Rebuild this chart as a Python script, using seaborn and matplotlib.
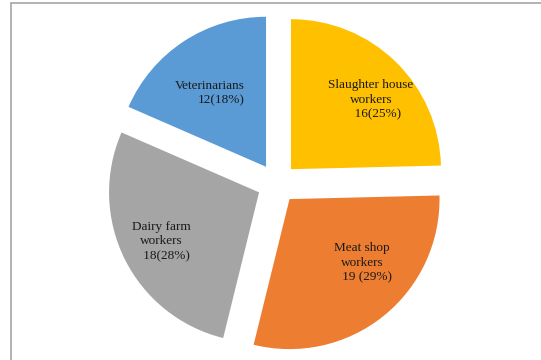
import matplotlib
matplotlib.use("Agg")
import matplotlib.pyplot as plt
import seaborn as sns

# --- data ---
groups = ["Slaughter house\nworkers", "Meat shop\nworkers", "Dairy farm\nworkers", "Veterinarians"]
counts = [16, 19, 18, 12]
pct_text = ["    16(25%)", "   19 (29%)", "   18(28%)", "12(18%)"]
colors = ["#FFC000", "#ED7D31", "#A5A5A5", "#5B9BD5"]

sns.set_style("white")
plt.rcParams["font.family"] = ["Liberation Serif", "DejaVu Serif"]

fig = plt.figure(figsize=(5.41, 3.6), dpi=100)
ax = fig.add_axes([0, 0, 1, 1])

# pie drawn in pixel-like data units (y up)
cx, cy, r = 277, 176.5, 150
wedges, _ = ax.pie(counts, colors=colors, startangle=90, counterclock=False,
                   radius=r, center=(cx, cy), explode=[20] * len(counts),
                   wedgeprops=dict(linewidth=0))

ax.set_xlim(0, 541)
ax.set_ylim(0, 360)
ax.set_aspect("equal")
ax.axis("off")

# label positions (x, y of text anchor) and alignment
label_pos = [(371, 260, "center"), (362, 97.5, "center"), (161, 118.5, "center"), (245, 267, "right")]
for name, pt, (x, y, ha) in zip(groups, pct_text, label_pos):
    ax.text(x, y, name + "\n" + pt, ha=ha, va="center", fontsize=9.5,
            color="#1a1a1a", linespacing=1.3,
            multialignment="center" if ha == "center" else "right")

# chart-area frame (cropped at right and bottom)
frame = plt.Rectangle((10.5, -10), 600, 367, fill=False, edgecolor="#A6A6A6",
                      linewidth=1.2, clip_on=True)
ax.add_patch(frame)

fig.savefig("out.png", dpi=100)
